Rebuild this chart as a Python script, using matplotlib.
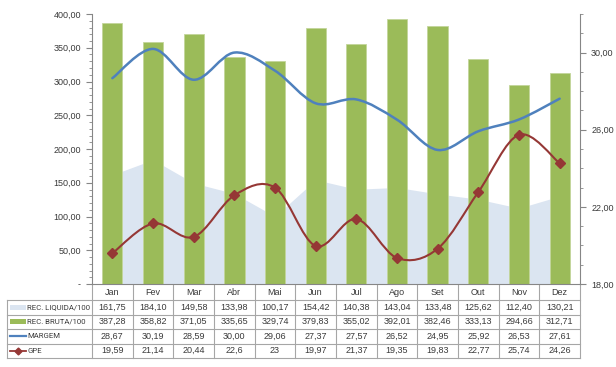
import matplotlib
matplotlib.use('Agg')
import matplotlib.pyplot as plt
from matplotlib.path import Path
from matplotlib.patches import PathPatch, Rectangle
from matplotlib.ticker import MultipleLocator, FixedLocator, FuncFormatter
import numpy as np

months = ['Jan', 'Fev', 'Mar', 'Abr', 'Mai', 'Jun', 'Jul', 'Ago', 'Set', 'Out', 'Nov', 'Dez']
rec_liquida = [161.75, 184.10, 149.58, 133.98, 100.17, 154.42, 140.38, 143.04, 133.48, 125.62, 112.40, 130.21]
rec_bruta = [387.28, 358.82, 371.05, 335.65, 329.74, 379.83, 355.02, 392.01, 382.46, 333.13, 294.66, 312.71]
margem = [28.67, 30.19, 28.59, 30.00, 29.06, 27.37, 27.57, 26.52, 24.95, 25.92, 26.53, 27.61]
gpe = [19.59, 21.14, 20.44, 22.6, 23, 19.97, 21.37, 19.35, 19.83, 22.77, 25.74, 24.26]
gpe_labels = ['19,59', '21,14', '20,44', '22,6', '23', '19,97', '21,37', '19,35', '19,83', '22,77', '25,74', '24,26']

C_AREA = '#dbe5f1'
C_BAR = '#9bbb59'
C_MARGEM = '#4f81bd'
C_GPE = '#953735'
C_AXIS = '#868686'
C_TEXT = '#3a3a3a'

plt.rcParams['font.family'] = ['Liberation Sans', 'DejaVu Sans']
LEG_FONT = ['Roboto', 'Liberation Sans', 'DejaVu Sans']

W, H = 616, 367
fig = plt.figure(figsize=(W / 100, H / 100), dpi=100)

# plot area in pixels
px_l, px_r, px_t, px_b = 92, 580, 14, 284
ax = fig.add_axes([px_l / W, 1 - px_b / H, (px_r - px_l) / W, (px_b - px_t) / H])
ax2 = ax.twinx()
ax.set_zorder(1)
ax2.set_zorder(2)
ax.patch.set_visible(False)
ax2.patch.set_visible(False)

x = np.arange(len(months))
ax.fill_between(x, rec_liquida, 0, color=C_AREA, lw=0, zorder=1)
ax.bar(x, rec_bruta, width=0.5, color=C_BAR, edgecolor='#c3d69b', lw=0.6, zorder=2)
ax.set_xlim(-0.5, len(months) - 0.5)
ax.set_ylim(0, 400)
ax.yaxis.set_major_locator(MultipleLocator(50))
ax.yaxis.set_minor_locator(MultipleLocator(10))
ax.yaxis.set_major_formatter(FuncFormatter(lambda v, p: '-' if v == 0 else f'{v:.2f}'.replace('.', ',')))
ax.set_xticks([])


def smooth_path(xs, ys):
    # Excel-like smoothed line: cubic Bezier through each point
    pts = np.column_stack([xs, ys]).astype(float)
    n = len(pts)
    verts = [pts[0]]
    codes = [Path.MOVETO]
    for i in range(n - 1):
        p0 = pts[max(i - 1, 0)]
        p1 = pts[i]
        p2 = pts[i + 1]
        p3 = pts[min(i + 2, n - 1)]
        c1 = p1 + (p2 - p0) / 6
        c2 = p2 - (p3 - p1) / 6
        verts += [c1, c2, p2]
        codes += [Path.CURVE4] * 3
    return Path(verts, codes)


ax2.add_patch(PathPatch(smooth_path(x, margem), fill=False, ec=C_MARGEM, lw=1.8, capstyle='round'))
ax2.add_patch(PathPatch(smooth_path(x, gpe), fill=False, ec=C_GPE, lw=1.5, capstyle='round'))
ax2.plot(x, gpe, ls='none', marker='D', ms=5, color=C_GPE)
ax2.set_ylim(18, 32)
ax2.yaxis.set_major_locator(FixedLocator(np.arange(18, 31, 4)))
ax2.yaxis.set_minor_locator(MultipleLocator(1))
ax2.yaxis.set_major_formatter(FuncFormatter(lambda v, p: f'{v:.2f}'.replace('.', ',')))

for a in (ax, ax2):
    for s in a.spines.values():
        s.set_visible(False)
    a.tick_params(axis='y', which='major', length=4, width=0.8, color=C_AXIS, labelsize=6.5,
                  labelcolor=C_TEXT, pad=4)
    a.tick_params(axis='y', which='minor', length=2, width=0.6, color=C_AXIS)
ax.spines['left'].set_visible(True)
ax.spines['left'].set_color(C_AXIS)
ax.spines['bottom'].set_visible(True)
ax.spines['bottom'].set_color(C_AXIS)
ax2.spines['right'].set_visible(True)
ax2.spines['right'].set_color(C_AXIS)
ax.tick_params(axis='x', length=0)

# data table drawn underneath in pixel coordinates
tab = fig.add_axes([0, 0, 1, 1])
tab.set_xlim(0, W)
tab.set_ylim(H, 0)
tab.axis('off')
tab.patch.set_visible(False)

col_w = (px_r - px_l) / len(months)
tab_left = 7
head_b = 300
row_h = 14.5
rows = [
    ('REC. LIQUIDA/100', [f'{v:.2f}'.replace('.', ',') for v in rec_liquida]),
    ('REC. BRUTA/100', [f'{v:.2f}'.replace('.', ',') for v in rec_bruta]),
    ('MARGEM', [f'{v:.2f}'.replace('.', ',') for v in margem]),
    ('GPE', gpe_labels),
]
tab_b = head_b + row_h * len(rows)
C_GRID = '#a6a6a6'

# vertical separators
for i in range(len(months) + 1):
    xx = px_l + i * col_w
    tab.plot([xx, xx], [px_b, tab_b], color=C_GRID, lw=0.8)
tab.plot([tab_left, tab_left], [head_b, tab_b], color=C_GRID, lw=0.8)
for r in range(len(rows) + 1):
    yy = head_b + r * row_h
    tab.plot([tab_left, px_r], [yy, yy], color=C_GRID, lw=0.8)

for i, m in enumerate(months):
    tab.text(px_l + (i + 0.5) * col_w, (px_b + head_b) / 2 + 0.5, m, ha='center', va='center',
             fontsize=6.5, color=C_TEXT)

# fit legend labels into the first column
renderer = fig.canvas.get_renderer()
probe = tab.text(0, 0, rows[0][0], fontsize=7, family=LEG_FONT)
wpx = probe.get_window_extent(renderer).width
probe.remove()
leg_size = min(7, 7 * (px_l - 29) / wpx)

for r, (name, vals) in enumerate(rows):
    yc = head_b + (r + 0.5) * row_h
    for i, v in enumerate(vals):
        tab.text(px_l + (i + 0.5) * col_w, yc, v, ha='center', va='center', fontsize=6.5,
                 color=C_TEXT)
    tab.text(27, yc, name, ha='left', va='center', fontsize=leg_size, color=C_TEXT, family=LEG_FONT)

# legend keys
y0 = head_b + 0.5 * row_h
tab.add_patch(Rectangle((10, y0 - 2.5), 16, 5, color=C_AREA, lw=0))
y1 = head_b + 1.5 * row_h
tab.add_patch(Rectangle((10, y1 - 2.5), 16, 5, color=C_BAR, lw=0))
y2 = head_b + 2.5 * row_h
tab.plot([10, 26], [y2, y2], color=C_MARGEM, lw=1.6)
y3 = head_b + 3.5 * row_h
tab.plot([10, 26], [y3, y3], color=C_GPE, lw=1.3)
tab.plot([18], [y3], marker='D', ms=3.5, color=C_GPE)

fig.savefig('out.png', dpi=100)
